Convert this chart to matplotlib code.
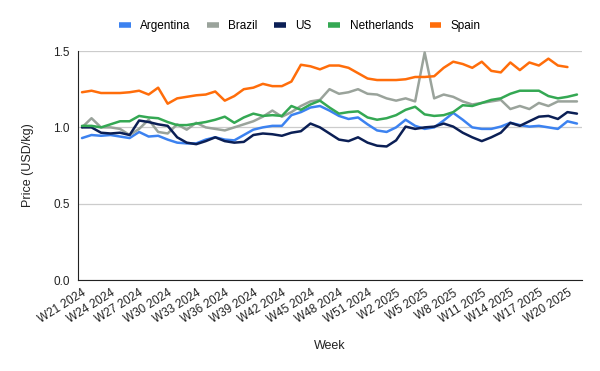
import numpy as np
import matplotlib
matplotlib.use("Agg")
import matplotlib.pyplot as plt

plt.rcParams['font.family'] = ['Liberation Sans', 'DejaVu Sans']

# 주차 라벨 (W21 2024 ~ W21 2025)
weeks_2024 = list(range(21, 53))
weeks_2025 = list(range(1, 22))
week_labels = [f"W{w} 2024" for w in weeks_2024] + [f"W{w} 2025" for w in weeks_2025]

argentina = [0.93, 0.95, 0.945, 0.95, 0.94, 0.93, 0.97, 0.94, 0.945, 0.92, 0.90,
             0.895, 0.895, 0.92, 0.935, 0.92, 0.915, 0.95, 0.985, 1.00, 1.01,
             1.01, 1.08, 1.10, 1.13, 1.14, 1.11, 1.075, 1.055, 1.065, 1.02, 0.98,
             0.97, 1.00, 1.05, 1.01, 0.99, 1.00, 1.045, 1.095, 1.05, 1.00,
             0.99, 0.99, 1.005, 1.03, 1.015, 1.005, 1.01, 1.00, 0.99, 1.04, 1.025]
brazil = [1.00, 1.06, 1.00, 1.00, 0.99, 0.95, 0.99, 1.05, 0.97, 0.96, 1.02,
          0.985, 1.03, 1.00, 0.99, 0.98, 1.00, 1.02, 1.04, 1.07, 1.11,
          1.07, 1.10, 1.14, 1.17, 1.18, 1.25, 1.22, 1.23, 1.25, 1.22, 1.215,
          1.19, 1.175, 1.19, 1.17, 1.49, 1.19, 1.215, 1.20, 1.17, 1.15,
          1.16, 1.17, 1.18, 1.12, 1.14, 1.12, 1.16, 1.14, 1.17, 1.17, 1.17]
us = [1.00, 1.00, 0.965, 0.96, 0.965, 0.95, 1.045, 1.035, 1.02, 1.01, 0.935,
      0.90, 0.89, 0.91, 0.935, 0.91, 0.90, 0.905, 0.95, 0.96, 0.955,
      0.945, 0.965, 0.975, 1.025, 1.00, 0.96, 0.92, 0.91, 0.935, 0.90, 0.88,
      0.875, 0.915, 1.005, 0.99, 1.00, 1.005, 1.025, 1.005, 0.965, 0.935,
      0.91, 0.935, 0.965, 1.03, 1.01, 1.04, 1.07, 1.075, 1.055, 1.10, 1.09]
netherlands = [1.01, 1.01, 1.00, 1.02, 1.04, 1.04, 1.075, 1.065, 1.06, 1.035, 1.015,
               1.015, 1.025, 1.035, 1.05, 1.07, 1.03, 1.065, 1.09, 1.075, 1.08,
               1.075, 1.14, 1.115, 1.15, 1.175, 1.13, 1.09, 1.10, 1.105, 1.065, 1.05,
               1.06, 1.08, 1.115, 1.135, 1.085, 1.075, 1.08, 1.10, 1.145, 1.14,
               1.16, 1.18, 1.19, 1.22, 1.24, 1.24, 1.24, 1.205, 1.19, 1.20, 1.215]
spain = [1.23, 1.24, 1.225, 1.225, 1.225, 1.23, 1.24, 1.215, 1.26, 1.155, 1.19,
         1.20, 1.21, 1.215, 1.235, 1.175, 1.205, 1.25, 1.26, 1.285, 1.27,
         1.27, 1.30, 1.41, 1.40, 1.38, 1.405, 1.405, 1.39, 1.355, 1.32, 1.31,
         1.31, 1.31, 1.315, 1.33, 1.33, 1.335, 1.39, 1.43, 1.415, 1.39,
         1.43, 1.37, 1.36, 1.425, 1.375, 1.425, 1.405, 1.45, 1.405, 1.395, np.nan]

series = [
    ("Argentina", argentina, "#3c82f0"),
    ("Brazil", brazil, "#9aa39b"),
    ("US", us, "#0b1f55"),
    ("Netherlands", netherlands, "#34a853"),
    ("Spain", spain, "#ff6d0a"),
]

fig = plt.figure(figsize=(6, 3.71), dpi=100)
ax = fig.add_axes([0.13, 0.245, 0.84, 0.6175])

x = np.arange(len(week_labels))
for name, vals, color in series:
    ax.plot(x, vals, color=color, linewidth=1.8, label=name,
            solid_joinstyle='round', solid_capstyle='round')

ax.set_xlim(-0.42, len(week_labels) - 0.47)
ax.set_ylim(0, 1.5)
ax.set_yticks([0, 0.5, 1.0, 1.5])
ax.set_yticklabels(["0.0", "0.5", "1.0", "1.5"])
ax.set_xticks(x[::3])
ax.set_xticklabels(week_labels[::3], rotation=32, ha='right', rotation_mode='anchor')
ax.tick_params(axis='both', length=0, labelsize=8.5, colors='#222222')
ax.tick_params(axis='x', pad=5)
ax.tick_params(axis='y', pad=6)

ax.grid(True, axis='y', color='#cccccc', linewidth=0.9)
ax.set_axisbelow(True)
for side in ['top', 'right']:
    ax.spines[side].set_visible(False)
ax.spines['left'].set_color('#222222')
ax.spines['bottom'].set_color('#222222')

ax.set_xlabel("Week", fontsize=9, color='#222222', labelpad=10)
ax.set_ylabel("Price (USD/kg)", fontsize=9, color='#222222', labelpad=14)

handles, labels = ax.get_legend_handles_labels()
leg = fig.legend(handles, labels, loc='center', bbox_to_anchor=(0.5, 0.93), ncol=5,
                 frameon=False, fontsize=8.5, handlelength=1.0, handletextpad=0.8,
                 columnspacing=1.4)
for line in leg.get_lines():
    line.set_linewidth(4)
    line.set_solid_capstyle('butt')

fig.savefig("out.png", dpi=100)
